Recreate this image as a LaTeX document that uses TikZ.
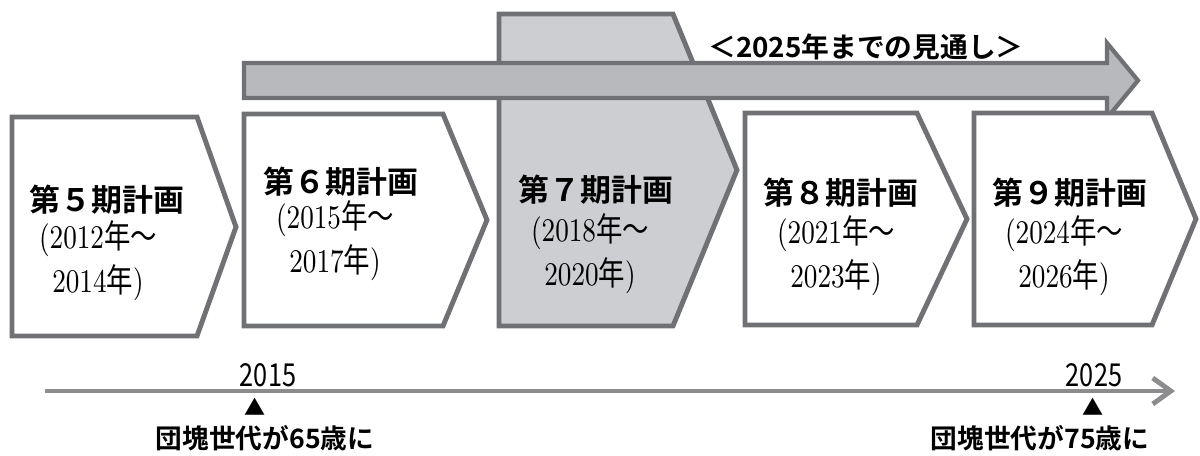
\documentclass[tikz,border=0pt]{standalone}
\usepackage{fontspec}
\usepackage{graphicx}
\usepackage{tikz}
\usetikzlibrary{positioning, calc}
\usetikzlibrary{arrows.meta}

\newfontfamily\jp[BoldFont={Noto Sans CJK JP Bold}]{Noto Sans CJK JP}

\definecolor{framegray}{RGB}{112,113,117}
\definecolor{planfill}{RGB}{205,206,209}
\definecolor{arrowfill}{RGB}{183,185,189}
\definecolor{linegray}{RGB}{140,140,143}

% year with kanji, serif digits
\newcommand{\nen}[1]{#1{\jp 年}}
\newcommand{\kara}{{\jp ～}}
% period of a plan, narrow and tall like the original
\newcommand{\period}[2]{\scalebox{0.8}[1]{\begin{tabular}{@{}c@{}}(\nen{#1}\kara\\\nen{#2})\end{tabular}}}
\newcommand{\narrow}[1]{\scalebox{0.8}[1]{#1}}

\begin{document}
\begin{tikzpicture}[
  plan/.style={draw=framegray, line width=1.4pt, line join=miter, fill=white},
  plantitle/.style={font=\jp\bfseries\fontsize{8.8}{10}\selectfont},
  plandate/.style={inner sep=0pt, font=\fontsize{9.4}{12.5}\selectfont},
  marker/.style={font=\jp\fontsize{6}{7}\selectfont, inner sep=0pt},
  event/.style={font=\jp\bfseries\fontsize{7.6}{9}\selectfont},
  yearlabel/.style={font=\jp\fontsize{9}{10}\selectfont}
]
\useasboundingbox (0, 0) rectangle (12, 4.55);

% 7th plan (behind the outlook arrow)
\draw[plan, fill=planfill] (4.99, 4.41) -- (6.73, 4.41) -- (7.37, 2.85) -- (6.73, 1.29) -- (4.99, 1.29) -- cycle;

% Outlook arrow up to 2025
\draw[draw=framegray, fill=arrowfill, line width=1.2pt, line join=miter]
  (2.44, 3.92) -- (11.07, 3.92) -- (11.07, 4.12) -- (11.38, 3.745)
  -- (11.07, 3.37) -- (11.07, 3.57) -- (2.44, 3.57) -- cycle;
\node[font=\jp\bfseries\fontsize{7.9}{9}\selectfont] (outlook) at (8.66, 4.08) {＜2025年までの見通し＞};

% Plan periods
\draw[plan] (0.12, 3.38) -- (1.97, 3.38) -- (2.36, 2.28) -- (1.97, 1.19) -- (0.12, 1.19) -- cycle;
\draw[plan] (2.44, 3.41) -- (4.43, 3.41) -- (4.87, 2.35) -- (4.43, 1.29) -- (2.44, 1.29) -- cycle;
\draw[plan] (7.45, 3.42) -- (9.17, 3.42) -- (9.67, 2.36) -- (9.17, 1.30) -- (7.45, 1.30) -- cycle;
\draw[plan] (9.74, 3.42) -- (11.52, 3.42) -- (11.96, 2.36) -- (11.52, 1.30) -- (9.74, 1.30) -- cycle;

\node[plantitle] (t5) at (1.07, 2.55) {第５期計画};
\node[plandate] (d5) at (0.98, 1.93) {\period{2012}{2014}};
\node[plantitle] (t6) at (3.41, 2.73) {第６期計画};
\node[plandate] (d6) at (3.35, 2.13) {\period{2015}{2017}};
\node[plantitle] (t7) at (5.96, 2.65) {第７期計画};
\node[plandate] (d7) at (5.90, 2.00) {\period{2018}{2020}};
\node[plantitle] (t8) at (8.41, 2.62) {第８期計画};
\node[plandate] (d8) at (8.36, 1.98) {\period{2021}{2023}};
\node[plantitle] (t9) at (10.70, 2.62) {第９期計画};
\node[plandate] (d9) at (10.64, 1.98) {\period{2024}{2026}};

% Time line
\coordinate (tlstart) at (0.45, 0.64);
\coordinate (tlend) at (11.75, 0.64);
\draw[linegray, line width=1.4pt, -{Straight Barb[length=1.8mm, width=2.6mm]}] (tlstart) -- (tlend);

\node[yearlabel] (y2015) at (2.68, 0.80) {\narrow{2015}};
\node[marker] (m2015) at (2.55, 0.48) {▲};
\node[event] (e2015) at (2.65, 0.17) {団塊世代が65歳に};

\node[yearlabel] (y2025) at (10.94, 0.80) {\narrow{2025}};
\node[marker] (m2025) at (10.93, 0.48) {▲};
\node[event] (e2025) at (10.40, 0.17) {団塊世代が75歳に};

\end{tikzpicture}
\end{document}
